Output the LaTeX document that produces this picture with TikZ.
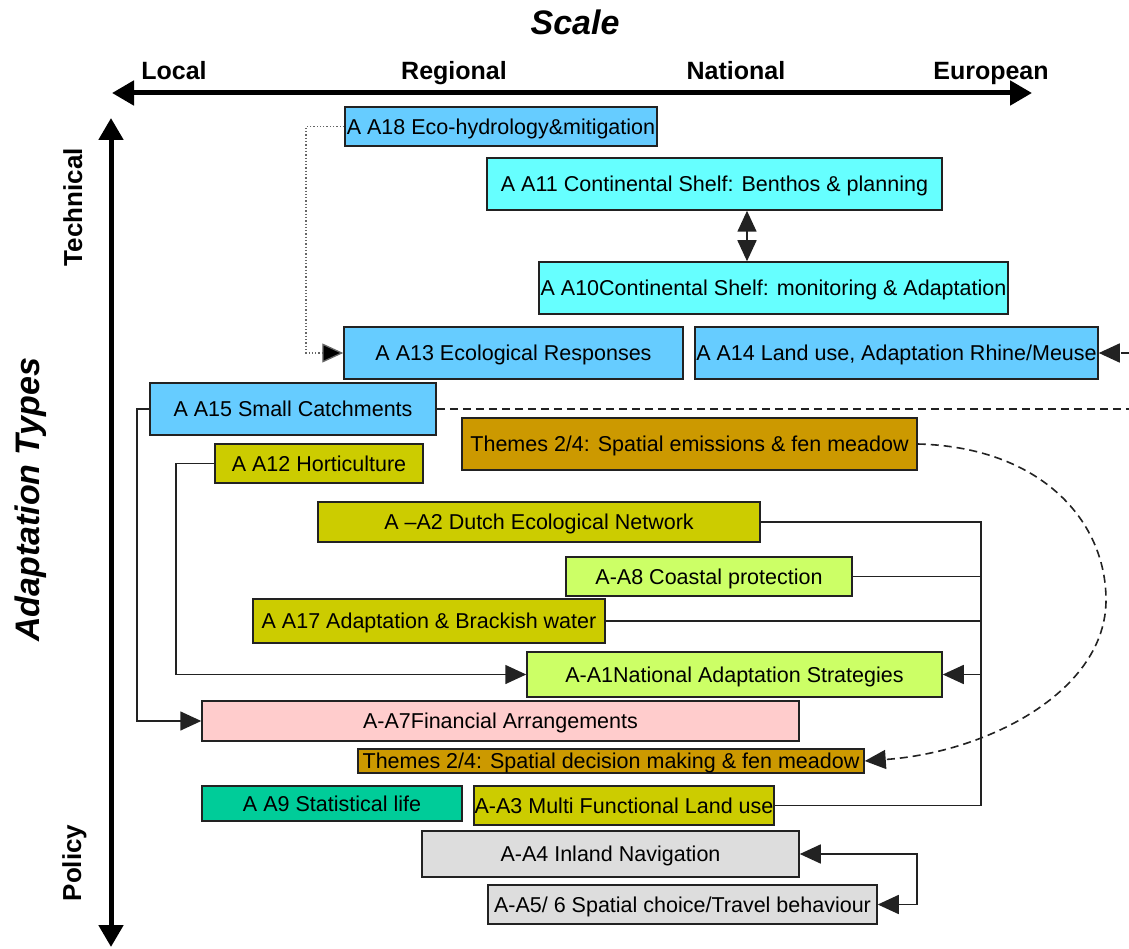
\documentclass[tikz,border=0pt]{standalone}
\usepackage{fontspec}
\setmainfont{Liberation Sans}
\usetikzlibrary{arrows.meta}
\definecolor{cBlue}{HTML}{66CCFF}
\definecolor{cCyan}{HTML}{66FFFF}
\definecolor{cOlive}{HTML}{CCCC00}
\definecolor{cLime}{HTML}{CCFF66}
\definecolor{cBrown}{HTML}{CC9900}
\definecolor{cPink}{HTML}{FFCCCC}
\definecolor{cTeal}{HTML}{00CC99}
\definecolor{cGray}{HTML}{DDDDDD}
\definecolor{cLine}{HTML}{222222}
\begin{document}
\begin{tikzpicture}[x=1pt,y=-1pt,
  box/.style={draw=cLine, line width=1.5pt, inner sep=0pt, anchor=center,
    font=\fontsize{21.5}{24}\selectfont, text height=15.5pt, text depth=0pt},
  conn/.style={line width=1.6pt, draw=cLine},
  tip/.style={-{Triangle[length=21pt,width=19pt]}},
  dtip/.style={{Triangle[length=21pt,width=19pt]}-{Triangle[length=21pt,width=19pt]}},
  axisline/.style={line width=5pt, {Triangle[length=22pt,width=24pt]}-{Triangle[length=22pt,width=24pt]}},
  axlabel/.style={font=\fontsize{25}{28}\selectfont\bfseries, inner sep=0pt},
  sidelabel/.style={font=\fontsize{26}{28}\selectfont\bfseries, inner sep=0pt},
  bigtitle/.style={font=\fontsize{34}{38}\selectfont\bfseries\itshape, inner sep=0pt}
]
\useasboundingbox (0,0) rectangle (1129,949);

% titles and axes
\node[bigtitle, anchor=base] (scale) at (575,35) {Scale};
\node[axlabel, anchor=base] (local) at (174,80) {Local};
\node[axlabel, anchor=base] (regional) at (454,80) {Regional};
\node[axlabel, anchor=base] (national) at (736,80) {National};
\node[axlabel, anchor=base] (european) at (991,80) {European};
\coordinate (hl) at (112,93);
\coordinate (hr) at (1032,93);
\draw[axisline] (hl) -- (hr);
\coordinate (vt) at (111,118);
\coordinate (vb) at (111,947);
\draw[axisline] (vt) -- (vb);
\node[sidelabel, rotate=90, anchor=base] (technical) at (82,207) {Technical};
\node[sidelabel, rotate=90, anchor=base] (policy) at (81,863) {Policy};
\node[bigtitle, rotate=90, anchor=base] (adtypes) at (39,500) {Adaptation Types};

% boxes
\node[box, fill=cBlue, minimum width=312pt, minimum height=39pt] (A18) at (501,126.5) {A A18 Eco-hydrology\&mitigation};
\node[box, fill=cCyan, minimum width=455pt, minimum height=52pt] (A11) at (714.5,184) {A A11 Continental Shelf: Benthos \& planning};
\node[box, fill=cCyan, minimum width=469pt, minimum height=52pt] (A10) at (773.5,288) {A A10Continental Shelf: monitoring \& Adaptation};
\node[box, fill=cBlue, minimum width=339pt, minimum height=52pt] (A13) at (513.5,353) {A A13 Ecological Responses};
\node[box, fill=cBlue, minimum width=403pt, minimum height=52pt] (A14) at (896.5,353) {A A14 Land use, Adaptation Rhine/Meuse};
\node[box, fill=cBlue, minimum width=286pt, minimum height=52pt] (A15) at (293,409) {A A15 Small Catchments};
\node[box, fill=cBrown, minimum width=455pt, minimum height=52pt] (TE) at (689.5,444) {Themes 2/4: Spatial emissions \& fen meadow};
\node[box, fill=cOlive, minimum width=208pt, minimum height=39pt] (A12) at (319,463.5) {A A12 Horticulture};
\node[box, fill=cOlive, minimum width=442pt, minimum height=40pt] (A2) at (539,522) {A –A2 Dutch Ecological Network};
\node[box, fill=cLime, minimum width=286pt, minimum height=39pt] (A8) at (709,576.5) {A-A8 Coastal protection};
\node[box, fill=cOlive, minimum width=352pt, minimum height=44pt] (A17) at (429,621) {A A17 Adaptation \& Brackish water};
\node[box, fill=cLime, minimum width=415pt, minimum height=45pt] (A1) at (734.5,674.5) {A-A1National Adaptation Strategies};
\node[box, fill=cPink, minimum width=597pt, minimum height=40pt] (A7) at (500.5,721) {A-A7Financial Arrangements};
\node[box, fill=cBrown, minimum width=506pt, minimum height=24pt] (TD) at (611,761) {Themes 2/4: Spatial decision making \& fen meadow};
\node[box, fill=cTeal, minimum width=260pt, minimum height=35pt] (A9) at (332,803.5) {A A9 Statistical life};
\node[box, fill=cOlive, minimum width=300pt, minimum height=39pt] (A3) at (624,805.5) {A-A3 Multi Functional Land use};
\node[box, fill=cGray, minimum width=377pt, minimum height=46pt] (A4) at (610.5,854) {A-A4 Inland Navigation};
\node[box, fill=cGray, minimum width=389pt, minimum height=39pt] (A5) at (682.5,904.5) {A-A5/ 6 Spatial choice/Travel behaviour};

% connectors
\draw[line width=1.3pt, draw=black!60, dotted, -{Triangle[length=21pt,width=19pt,fill=black]}] (A18.west) -- (306,126.5) -- (306,353) -- (A13.west);
\coordinate (x747) at (747,0);
\draw[conn, dtip] (A11.south -| x747) -- (A10.north -| x747);
\coordinate (e14) at (1129,353);
\draw[conn, dash pattern=on 8pt off 5pt, tip] (e14) -- (A14.east);
\coordinate (e15) at (1129,409);
\draw[conn, dash pattern=on 8pt off 5pt] (A15.east) -- (e15);
\draw[conn, tip] (A15.west) -- (137,409) -- (137,721) -- (A7.west);
\draw[conn, tip] (A12.west) -- (176,463.5) -- (176,674.5) -- (A1.west);
\draw[conn, dash pattern=on 8pt off 5pt, tip] (TE.east) .. controls (1040,447) and (1106,520) .. (1106,600) .. controls (1106,690) and (990,752) .. (TD.east);
% bus
\coordinate (b1) at (981,522);
\coordinate (b2) at (981,805.5);
\coordinate (bA1) at (981,674.5);
\draw[conn] (A2.east) -- (b1) -- (b2) -- (A3.east);
\draw[conn] (A8.east) -- (A8.east -| b1);
\draw[conn] (A17.east) -- (A17.east -| b1);
\draw[conn, tip] (bA1) -- (A1.east);
% A4 - A5
\coordinate (r1) at (917,854);
\coordinate (r2) at (917,904.5);
\draw[conn, dtip] (A4.east) -- (r1) -- (r2) -- (A5.east);
\end{tikzpicture}
\end{document}
